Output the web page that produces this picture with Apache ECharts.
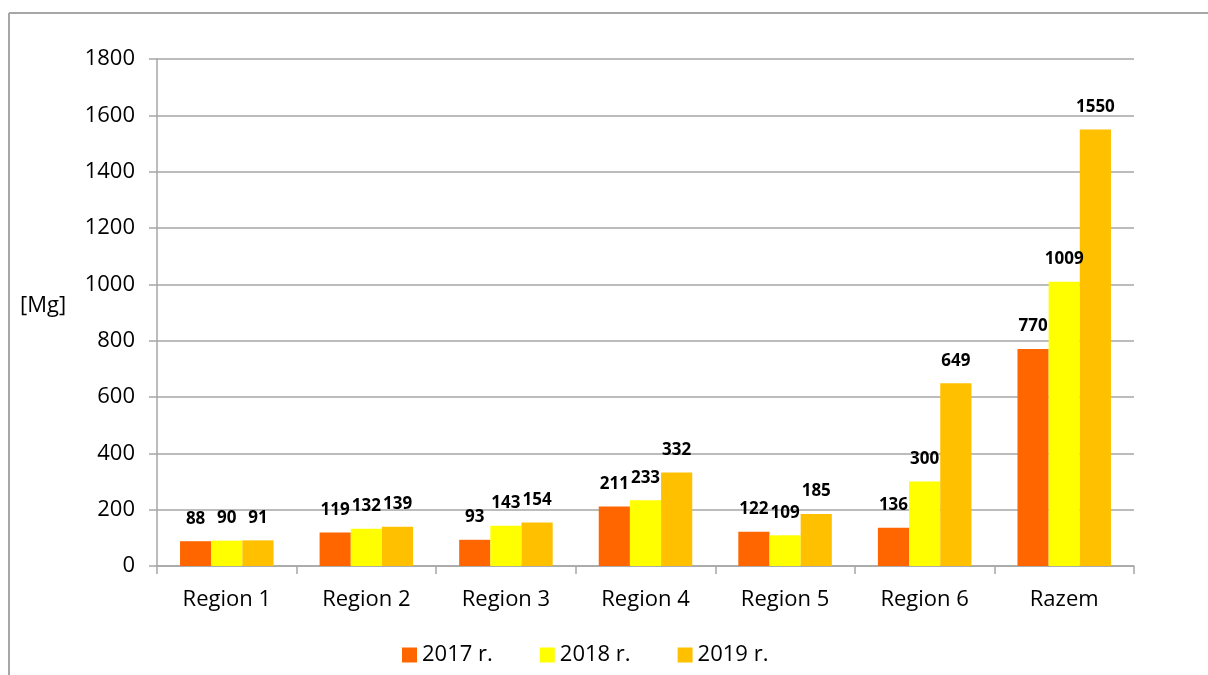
<!DOCTYPE html>
<html>
<head>
<meta charset="utf-8">
<script src="https://cdn.jsdelivr.net/npm/echarts@6/dist/echarts.min.js"></script>
<style>
  html,body{margin:0;padding:0;background:#fff;}
  #main{width:1208px;height:675px;}
</style>
</head>
<body>
<div id="main"></div>
<script>
var categories=['Region 1','Region 2','Region 3','Region 4','Region 5','Region 6','Razem'];
var seriesNames=['2017 r.','2018 r.','2019 r.'];
var v2017=[88,119,93,211,122,136,770];
var v2018=[90,132,143,233,109,300,1009];
var v2019=[91,139,154,332,185,649,1550];
var yTicks=[0,200,400,600,800,1000,1200,1400,1600,1800];
var colors=['#FF6600','#FFFF00','#FFC000'];

var myChart=echarts.init(document.getElementById('main'));
var font='"Open Sans", "Noto Sans", sans-serif';

function makeSeries(name,data,color){
  return {
    name:name,
    type:'bar',
    data:data,
    barGap:'0%',
    barCategoryGap:'33%',
    itemStyle:{color:color},
    label:{
      show:true,
      position:'top',
      distance:14,
      fontFamily:font,
      fontSize:17,
      fontWeight:'bold',
      color:'#000'
    }
  };
}

var option={
  animation:false,
  backgroundColor:'#fff',
  textStyle:{fontFamily:font},
  grid:{left:157,right:74,top:59,bottom:109},
  legend:{
    top:639,
    left:397,
    itemWidth:15,
    itemHeight:15,
    itemGap:47,
    icon:'rect',
    textStyle:{fontFamily:font,fontSize:22,color:'#000'},
    data:seriesNames
  },
  xAxis:{
    type:'category',
    data:categories,
    axisLine:{lineStyle:{color:'#a6a6a6',width:1.5}},
    axisTick:{show:true,length:8,lineStyle:{color:'#a6a6a6',width:1.5}},
    axisLabel:{fontFamily:font,fontSize:22,color:'#000',margin:23}
  },
  yAxis:{
    type:'value',
    min:yTicks[0],
    max:yTicks[yTicks.length-1],
    interval:yTicks[1]-yTicks[0],
    axisLine:{show:true,lineStyle:{color:'#a6a6a6',width:1.5}},
    axisTick:{show:true,length:8,lineStyle:{color:'#a6a6a6',width:1.5}},
    axisLabel:{fontFamily:font,fontSize:22,color:'#000',margin:22,formatter:function(v){return String(v);}},
    splitLine:{lineStyle:{color:'#a6a6a6',width:1.5}}
  },
  graphic:[
    {type:'line',shape:{x1:9,y1:13,x2:1208,y2:13},style:{stroke:'#a6a6a6',lineWidth:2},silent:true},
    {type:'line',shape:{x1:9,y1:13,x2:9,y2:675},style:{stroke:'#a6a6a6',lineWidth:2},silent:true},
    {type:'text',left:20,top:295,style:{text:'[Mg]',font:'22px '+font,fill:'#000'}}
  ],
  series:[
    makeSeries(seriesNames[0],v2017,colors[0]),
    makeSeries(seriesNames[1],v2018,colors[1]),
    makeSeries(seriesNames[2],v2019,colors[2])
  ]
};
myChart.setOption(option);
</script>
</body>
</html>
